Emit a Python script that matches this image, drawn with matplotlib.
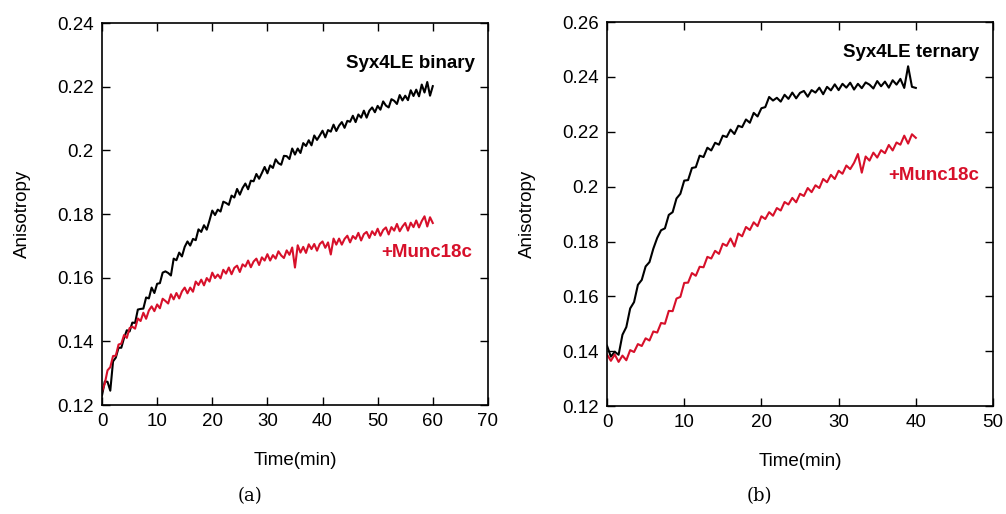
import numpy as np
import matplotlib.pyplot as plt

# left panel: Syx4LE binary, 0..60 min, every 0.5 min
time_a = np.arange(0, 60.01, 0.5)
binary = [0.1230, 0.1274, 0.1273, 0.1245, 0.1337, 0.1349, 0.1380, 0.1380, 0.1411, 0.1435,
          0.1431, 0.1459, 0.1458, 0.1500, 0.1502, 0.1503, 0.1538, 0.1535, 0.1569, 0.1552,
          0.1581, 0.1583, 0.1616, 0.1620, 0.1615, 0.1607, 0.1660, 0.1655, 0.1679, 0.1667,
          0.1697, 0.1714, 0.1701, 0.1722, 0.1718, 0.1752, 0.1744, 0.1765, 0.1751, 0.1780,
          0.1811, 0.1797, 0.1814, 0.1808, 0.1839, 0.1835, 0.1829, 0.1858, 0.1852, 0.1879,
          0.1861, 0.1882, 0.1896, 0.1878, 0.1905, 0.1903, 0.1926, 0.1911, 0.1929, 0.1948,
          0.1928, 0.1953, 0.1945, 0.1972, 0.1960, 0.1955, 0.1983, 0.1982, 0.1973, 0.2006,
          0.1987, 0.2006, 0.1992, 0.2023, 0.2014, 0.2032, 0.2016, 0.2047, 0.2033, 0.2047,
          0.2062, 0.2041, 0.2064, 0.2059, 0.2081, 0.2061, 0.2078, 0.2089, 0.2071, 0.2093,
          0.2090, 0.2109, 0.2089, 0.2113, 0.2103, 0.2125, 0.2103, 0.2125, 0.2135, 0.2120,
          0.2140, 0.2128, 0.2154, 0.2141, 0.2135, 0.2161, 0.2156, 0.2146, 0.2174, 0.2157,
          0.2172, 0.2158, 0.2189, 0.2171, 0.2191, 0.2170, 0.2207, 0.2182, 0.2215, 0.2172,
          0.2202]
binary_munc = [0.1243, 0.1267, 0.1309, 0.1319, 0.1354, 0.1355, 0.1390, 0.1393, 0.1420, 0.1411,
               0.1442, 0.1446, 0.1440, 0.1472, 0.1464, 0.1490, 0.1471, 0.1497, 0.1510, 0.1495,
               0.1516, 0.1504, 0.1534, 0.1527, 0.1519, 0.1548, 0.1532, 0.1552, 0.1535, 0.1557,
               0.1569, 0.1551, 0.1569, 0.1556, 0.1588, 0.1577, 0.1594, 0.1576, 0.1599, 0.1588,
               0.1616, 0.1599, 0.1610, 0.1598, 0.1625, 0.1613, 0.1632, 0.1611, 0.1631, 0.1638,
               0.1618, 0.1642, 0.1635, 0.1654, 0.1633, 0.1651, 0.1660, 0.1640, 0.1664, 0.1654,
               0.1674, 0.1654, 0.1671, 0.1660, 0.1683, 0.1670, 0.1662, 0.1686, 0.1672, 0.1695,
               0.1632, 0.1702, 0.1679, 0.1697, 0.1678, 0.1705, 0.1690, 0.1706, 0.1685, 0.1706,
               0.1714, 0.1694, 0.1711, 0.1673, 0.1723, 0.1704, 0.1723, 0.1704, 0.1722, 0.1732,
               0.1711, 0.1731, 0.1722, 0.1741, 0.1717, 0.1737, 0.1744, 0.1725, 0.1746, 0.1734,
               0.1754, 0.1732, 0.1750, 0.1758, 0.1736, 0.1759, 0.1748, 0.1769, 0.1746, 0.1761,
               0.1772, 0.1748, 0.1773, 0.1759, 0.1780, 0.1758, 0.1778, 0.1793, 0.1761, 0.1790,
               0.1772]

# right panel: Syx4LE ternary, 0..40 min, every 0.5 min
time_b = np.arange(0, 40.01, 0.5)
ternary = [0.1420, 0.1380, 0.1398, 0.1387, 0.1460, 0.1488, 0.1556, 0.1579, 0.1642, 0.1660,
           0.1709, 0.1725, 0.1774, 0.1813, 0.1841, 0.1848, 0.1897, 0.1907, 0.1957, 0.1974,
           0.2022, 0.2024, 0.2068, 0.2071, 0.2113, 0.2108, 0.2142, 0.2132, 0.2160, 0.2153,
           0.2186, 0.2181, 0.2208, 0.2192, 0.2222, 0.2217, 0.2245, 0.2233, 0.2269, 0.2256,
           0.2286, 0.2290, 0.2327, 0.2314, 0.2324, 0.2310, 0.2335, 0.2320, 0.2343, 0.2322,
           0.2342, 0.2349, 0.2328, 0.2352, 0.2343, 0.2361, 0.2337, 0.2364, 0.2351, 0.2373,
           0.2352, 0.2375, 0.2361, 0.2379, 0.2354, 0.2375, 0.2359, 0.2380, 0.2372, 0.2358,
           0.2385, 0.2366, 0.2383, 0.2361, 0.2388, 0.2372, 0.2393, 0.2360, 0.2439, 0.2364,
           0.2360]
ternary_munc = [0.1388, 0.1365, 0.1388, 0.1361, 0.1384, 0.1367, 0.1404, 0.1397, 0.1426, 0.1419,
                0.1447, 0.1439, 0.1472, 0.1468, 0.1503, 0.1500, 0.1547, 0.1546, 0.1592, 0.1598,
                0.1649, 0.1650, 0.1685, 0.1675, 0.1708, 0.1706, 0.1744, 0.1738, 0.1766, 0.1755,
                0.1792, 0.1784, 0.1811, 0.1782, 0.1829, 0.1819, 0.1853, 0.1842, 0.1870, 0.1856,
                0.1892, 0.1882, 0.1907, 0.1894, 0.1922, 0.1913, 0.1944, 0.1935, 0.1959, 0.1943,
                0.1974, 0.1966, 0.1995, 0.1980, 0.2005, 0.1995, 0.2028, 0.2016, 0.2043, 0.2028,
                0.2058, 0.2047, 0.2077, 0.2064, 0.2087, 0.2119, 0.2051, 0.2110, 0.2095, 0.2124,
                0.2106, 0.2133, 0.2122, 0.2152, 0.2132, 0.2161, 0.2153, 0.2186, 0.2157, 0.2191,
                0.2178]

red = '#d7102a'
plt.rcParams['font.family'] = ['Liberation Sans', 'DejaVu Sans']

fig = plt.figure(figsize=(10.06, 5.14), dpi=100)
ax1 = fig.add_axes([0.1014, 0.212, 0.3836, 0.743])
ax2 = fig.add_axes([0.6034, 0.210, 0.3837, 0.747])

panels = [
    (ax1, time_a, binary, binary_munc, (0, 70), (0.12, 0.24),
     'Syx4LE binary', (67.7, 0.2274), (67.2, 0.168), '(a)', 0.2485),
    (ax2, time_b, ternary, ternary_munc, (0, 50), (0.12, 0.26),
     'Syx4LE ternary', (48.2, 0.249), (48.2, 0.204), '(b)', 0.755),
]

for ax, t, y_black, y_red, xl, yl, name, pos_name, pos_munc, cap, cap_x in panels:
    ax.plot(t, y_black, color='black', lw=1.5)
    ax.plot(t, y_red, color=red, lw=1.5)
    ax.set_xlim(*xl)
    ax.set_ylim(*yl)
    ax.set_xticks(np.arange(xl[0], xl[1] + 1, 10))
    ax.set_yticks(np.arange(yl[0], yl[1] + 0.001, 0.02))
    ax.set_yticklabels(['%g' % round(v, 2) for v in ax.get_yticks()])
    ax.tick_params(direction='in', length=6, width=1, top=True, right=True,
                   labelsize=13.5, pad=6)
    for s in ax.spines.values():
        s.set_linewidth(1.2)
    ax.set_xlabel('Time(min)', fontsize=13.5)
    ax.set_ylabel('Anisotropy', fontsize=13.5)
    ax.xaxis.set_label_coords(0.5, -0.123)
    ax.yaxis.set_label_coords(-0.185, 0.5)
    ax.text(pos_name[0], pos_name[1], name, ha='right', va='center',
            fontsize=13.5, fontweight='bold')
    ax.text(pos_munc[0], pos_munc[1], '+Munc18c', ha='right', va='center',
            fontsize=13.5, fontweight='bold', color=red)
    fig.text(cap_x, 0.035, cap, ha='center', va='center', fontsize=13,
             family='DejaVu Serif')

fig.savefig('out.png', dpi=100)
